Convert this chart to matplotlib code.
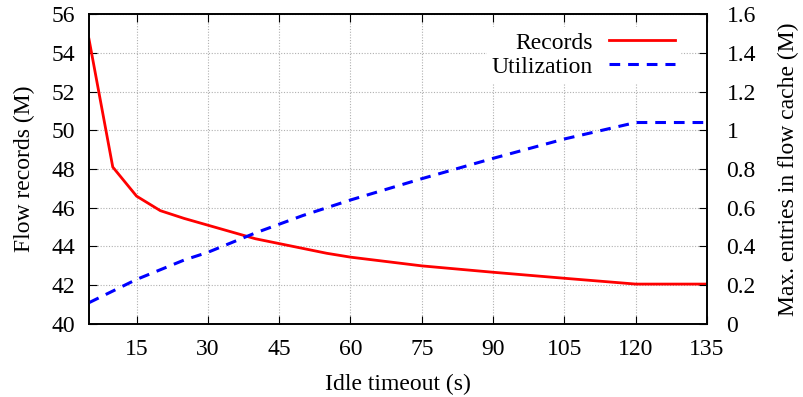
import matplotlib
matplotlib.use('Agg')
import matplotlib.pyplot as plt
import numpy as np

plt.rcParams['font.family'] = ['Liberation Serif', 'DejaVu Serif']
plt.rcParams['font.size'] = 17

# idle timeout (s)
timeout = [5, 10, 15, 20, 25, 30, 35, 40, 45, 50, 55, 60, 75, 90, 105, 120, 135]
# flow records (M)
records = [54.7, 48.1, 46.6, 45.85, 45.45, 45.1, 44.75, 44.4, 44.15, 43.9, 43.65, 43.45,
           43.0, 42.67, 42.36, 42.06, 42.06]
# max entries in flow cache (M)
util = [0.11, 0.17, 0.23, 0.28, 0.33, 0.37, 0.42, 0.47, 0.515, 0.56, 0.60, 0.64,
        0.75, 0.855, 0.955, 1.04, 1.04]

xticks = [15, 30, 45, 60, 75, 90, 105, 120, 135]

fig = plt.figure(figsize=(8.04, 3.97), dpi=100)
ax = fig.add_axes([0.1107, 0.1839, 0.7687, 0.7808])
ax2 = ax.twinx()

l1, = ax.plot(timeout, records, color='#ff0000', lw=2.0, label='Records')
l2, = ax2.plot(timeout, util, color='#0000ff', lw=2.2, ls=(0, (3.5, 2.6)), label='Utilization')

ax.set_xlim(5, 135)
ax.set_ylim(40, 56)
ax2.set_ylim(0, 1.6)
ax.set_xticks(xticks)
ax.set_yticks(np.arange(40, 57, 2))
ax2.set_yticks([0, 0.2, 0.4, 0.6, 0.8, 1, 1.2, 1.4, 1.6])
ax2.set_yticklabels(['0', '0.2', '0.4', '0.6', '0.8', '1', '1.2', '1.4', '1.6'])

ax.grid(True, color='#b0b0b0', ls=(0, (1, 1.5)), lw=0.8)
ax.set_axisbelow(True)
ax.tick_params(axis='x', direction='in', top=True, length=6, pad=11)
ax.tick_params(axis='y', direction='in', length=6, pad=10)
ax2.tick_params(axis='y', direction='in', length=6, pad=14)

for a in (ax, ax2):
    for s in a.spines.values():
        s.set_linewidth(1.2)

ax.set_xlabel('Idle timeout (s)', labelpad=10)
ax.set_ylabel('Flow records (M)', labelpad=12)
ax2.set_ylabel('Max. entries in flow cache (M)', labelpad=16)

leg = ax2.legend([l1, l2], ['Records', 'Utilization'], loc='upper right',
                 bbox_to_anchor=(0.975, 0.995), markerfirst=False, frameon=True,
                 fancybox=False, edgecolor='white', framealpha=1, handlelength=2.8,
                 borderpad=0.2, labelspacing=0.1, handletextpad=0.7)

fig.savefig('out.png', dpi=100)
